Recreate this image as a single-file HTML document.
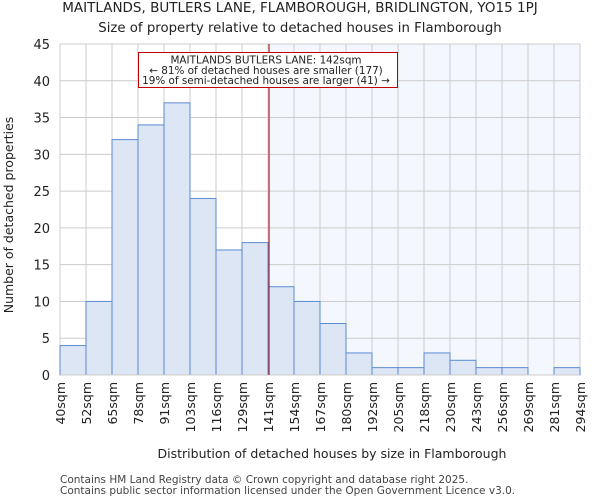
<!DOCTYPE html>
<html><head><meta charset="utf-8"><style>
body{margin:0;background:#fff;font-family:"DejaVu Sans","Liberation Sans",sans-serif}
</style></head><body>
<svg id="chart" width="600" height="500" xmlns="http://www.w3.org/2000/svg" font-family="DejaVu Sans, Liberation Sans, sans-serif">
<text x="300" y="12" text-anchor="middle" font-size="13.5" fill="#222">MAITLANDS, BUTLERS LANE, FLAMBOROUGH, BRIDLINGTON, YO15 1PJ</text>
<text x="300" y="32" text-anchor="middle" font-size="13.3" fill="#222">Size of property relative to detached houses in Flamborough</text>
<g id="plot"></g>
<text x="332" y="458" text-anchor="middle" font-size="12.5" fill="#222">Distribution of detached houses by size in Flamborough</text>
<text transform="translate(13,215) rotate(-90)" text-anchor="middle" font-size="12.5" fill="#222">Number of detached properties</text>
<text x="60" y="483" font-size="10.5" fill="#444">Contains HM Land Registry data © Crown copyright and database right 2025.</text>
<text x="60" y="494" font-size="10.5" fill="#444">Contains public sector information licensed under the Open Government Licence v3.0.</text>
</svg>
<script>
const categories=["40sqm","52sqm","65sqm","78sqm","91sqm","103sqm","116sqm","129sqm","141sqm","154sqm","167sqm","180sqm","192sqm","205sqm","218sqm","230sqm","243sqm","256sqm","269sqm","281sqm","294sqm"];
const counts=[4,10,32,34,37,24,17,18,12,10,7,3,1,1,3,2,1,1,0,1];
const yTicks=[0,5,10,15,20,25,30,35,40,45];
const markerBin=8.04;
const annotationLines=["MAITLANDS BUTLERS LANE: 142sqm","← 81% of detached houses are smaller (177)","19% of semi-detached houses are larger (41) →"];
const NS="http://www.w3.org/2000/svg";
const L=60,R=580,T=44,B=375,yMax=45;
const bw=(R-L)/counts.length;
const xs=i=>L+i*bw;
const ys=v=>B-(B-T)*v/yMax;
const g=document.getElementById('plot');
function mk(tag,attrs){const e=document.createElementNS(NS,tag);for(const k in attrs)e.setAttribute(k,attrs[k]);g.appendChild(e);return e;}
const mx=xs(markerBin);
let sh=mk('rect',{x:mx,y:T,width:R-mx,height:B-T,fill:'#f4f7fd'});


yTicks.forEach(t=>{
 let l=mk('line',{x1:L,x2:R,y1:ys(t),y2:ys(t),stroke:'#ccc','stroke-width':1});
 
 
 let tx=mk('text',{x:L-10,y:ys(t)+5,'text-anchor':'end','font-size':13,fill:'#222'});
 tx.textContent=t;
 
 
});
categories.forEach((c,i)=>{
 let l=mk('line',{x1:xs(i),x2:xs(i),y1:T,y2:B,stroke:'#ccc','stroke-width':1});
 
 
 let tx=mk('text',{transform:`translate(${xs(i)+5},${B+7}) rotate(-90)`,'text-anchor':'end','font-size':12.5,fill:'#222'});
 tx.textContent=c;
 
 
});
counts.forEach((v,i)=>{
 if(v<=0)return;
 let r=mk('rect',{x:xs(i),y:ys(v),width:bw,height:B-ys(v),fill:'#dce6f4',stroke:'#5b8bd0','stroke-width':1});
 
 
});
let ax=mk('line',{x1:L,x2:R,y1:B,y2:B,stroke:'#ccc'});


let ml=mk('line',{x1:mx,x2:mx,y1:T,y2:B,stroke:'#b00000','stroke-width':1});


let box=mk('rect',{x:138.5,y:52.5,width:259,height:35,fill:'#fff',stroke:'#c00000','stroke-width':1});


annotationLines.forEach((s,i)=>{
 let tx=mk('text',{x:266,y:63.5+i*10.3,'text-anchor':'middle','font-size':10.4,fill:'#222'});
 tx.textContent=s;
 
 
});
</script>
</body></html>
